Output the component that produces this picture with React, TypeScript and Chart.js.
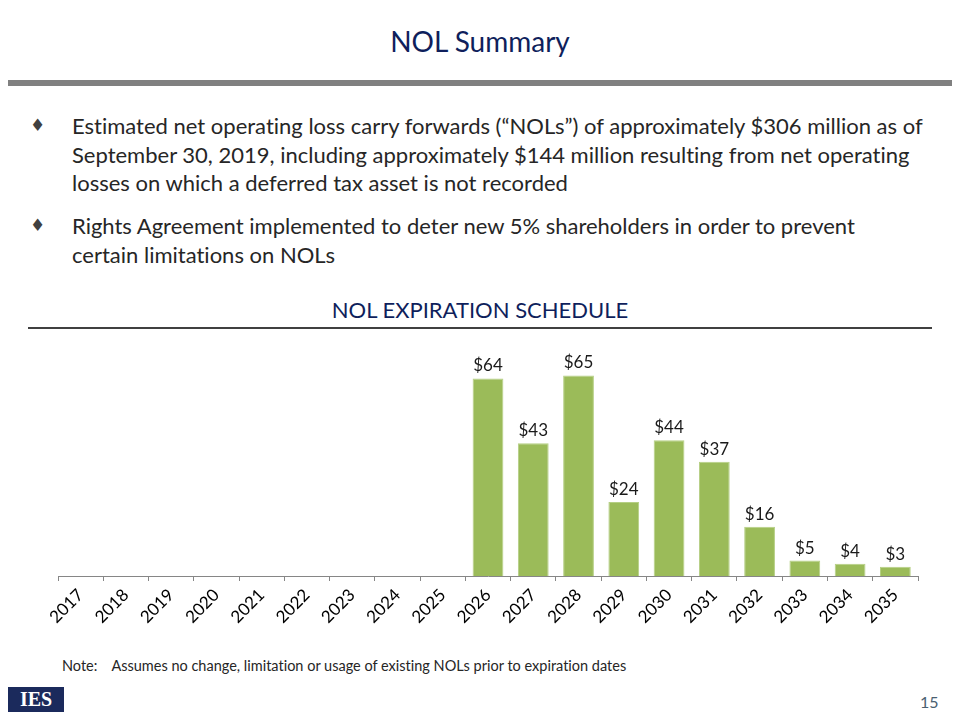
import React, { useEffect, useRef } from "react";
import { Chart, registerables } from "chart.js";

Chart.register(...registerables);

const years = ["2017","2018","2019","2020","2021","2022","2023","2024","2025","2026","2027","2028","2029","2030","2031","2032","2033","2034","2035"];
const nolValues: (number | null)[] = [null,null,null,null,null,null,null,null,null,64,43,65,24,44,37,16,5,4,3];

const titleText = "NOL Summary";
const subtitleText = "NOL EXPIRATION SCHEDULE";
const bullet1Lines = [
  "Estimated net operating loss carry forwards (\u201CNOLs\u201D) of approximately $306 million as of",
  "September 30, 2019, including approximately $144 million resulting from net operating",
  "losses on which a deferred tax asset is not recorded",
];
const bullet2Lines = [
  "Rights Agreement implemented to deter new 5% shareholders in order to prevent",
  "certain limitations on NOLs",
];
const noteLabel = "Note:";
const noteText = "Assumes no change, limitation or usage of existing NOLs prior to expiration dates";
const pageNumber = "15";

const FONT = "Lato, 'Open Sans', sans-serif";
const NAVY = "#0f1f5c";
const TEXT = "#262626";

const valueLabelPlugin = {
  id: "valueLabels",
  afterDatasetsDraw(chart: any) {
    const { ctx } = chart;
    const meta = chart.getDatasetMeta(0);
    const data = chart.data.datasets[0].data;
    ctx.save();
    ctx.font = `17px ${FONT}`;
    ctx.fillStyle = "#1a1a1a";
    ctx.textAlign = "center";
    ctx.textBaseline = "bottom";
    meta.data.forEach((bar: any, i: number) => {
      const v = data[i];
      if (v === null || v === undefined) return;
      ctx.fillText("$" + v, bar.x, bar.y - 4);
    });
    ctx.restore();
  },
};

function NolChart() {
  const ref = useRef<HTMLCanvasElement>(null);
  useEffect(() => {
    if (!ref.current) return;
    const chart = new Chart(ref.current, {
      type: "bar",
      data: {
        labels: years,
        datasets: [
          {
            data: nolValues,
            backgroundColor: "#9bbb59",
            borderColor: "#b5cf84",
            borderWidth: 1,
            barPercentage: 0.68,
            categoryPercentage: 1,
          },
        ],
      },
      options: {
        animation: false,
        responsive: false,
        maintainAspectRatio: false,
        layout: { padding: { left: 18, right: 22, top: 20, bottom: 6 } },
        plugins: { legend: { display: false }, tooltip: { enabled: false } },
        scales: {
          y: { display: false, min: 0, max: 70 },
          x: {
            afterFit: (scale: any) => {
              scale.height = 68;
            },
            border: { display: true, color: "#868686", width: 1 },
            grid: {
              display: true,
              offset: true,
              drawOnChartArea: false,
              drawTicks: true,
              tickLength: 5,
              color: "#868686",
            },
            ticks: {
              maxRotation: 45,
              minRotation: 45,
              autoSkip: false,
              padding: 4,
              color: "#000000",
              font: { family: FONT, size: 17 },
            },
          },
        },
      },
      plugins: [valueLabelPlugin],
    });
    return () => chart.destroy();
  }, []);
  return (
    <canvas
      ref={ref}
      width={900}
      height={310}
      style={{ position: "absolute", left: 40, top: 340, width: 900, height: 310 }}
    />
  );
}

export default function App() {
  const bulletStyle: React.CSSProperties = {
    position: "absolute",
    left: 30,
    fontSize: 17,
    color: "#404040",
    fontFamily: "'DejaVu Sans', sans-serif",
  };
  const lineStyle = (top: number): React.CSSProperties => ({
    position: "absolute",
    left: 72,
    top,
    fontSize: 22,
    lineHeight: "28px",
    whiteSpace: "nowrap",
    color: TEXT,
    fontFamily: FONT,
    fontVariantLigatures: "none",
  });
  return (
    <div
      style={{
        position: "fixed",
        left: 0,
        top: 0,
        width: 960,
        height: 720,
        background: "#ffffff",
        overflow: "hidden",
        fontFamily: FONT,
        fontVariantLigatures: "none",
      }}
    >
      <div
        style={{
          position: "absolute",
          left: 0,
          width: 960,
          top: 23,
          textAlign: "center",
          fontSize: 28,
          lineHeight: "36px",
          color: NAVY,
        }}
      >
        {titleText}
      </div>
      <div style={{ position: "absolute", left: 8, top: 80, width: 944, height: 6, background: "#808080" }} />

      <div style={{ ...bulletStyle, top: 115 }}>{"\u2666"}</div>
      {bullet1Lines.map((t, i) => (
        <div key={"b1" + i} style={lineStyle(112 + i * 28.5)}>
          {t}
        </div>
      ))}
      <div style={{ ...bulletStyle, top: 215 }}>{"\u2666"}</div>
      {bullet2Lines.map((t, i) => (
        <div key={"b2" + i} style={lineStyle(212 + i * 28.5)}>
          {t}
        </div>
      ))}

      <div
        style={{
          position: "absolute",
          left: 0,
          width: 960,
          top: 295,
          textAlign: "center",
          fontSize: 22,
          lineHeight: "30px",
          color: NAVY,
        }}
      >
        {subtitleText}
      </div>
      <div style={{ position: "absolute", left: 28, top: 327, width: 904, height: 2, background: "#404040" }} />

      <NolChart />

      <div
        style={{
          position: "absolute",
          left: 62,
          top: 656,
          fontSize: 14.5,
          lineHeight: "20px",
          color: TEXT,
          whiteSpace: "nowrap",
        }}
      >
        <span>{noteLabel}</span>
        <span style={{ marginLeft: 14 }}>{noteText}</span>
      </div>

      <div
        style={{
          position: "absolute",
          left: 8,
          top: 687,
          width: 56,
          height: 25,
          background: "#1b2a5c",
          color: "#ffffff",
          fontFamily: "'Liberation Serif', 'DejaVu Serif', serif",
          fontWeight: "bold",
          fontSize: 20,
          lineHeight: "25px",
          textAlign: "center",
        }}
      >
        IES
      </div>
      <div
        style={{
          position: "absolute",
          left: 920,
          top: 692,
          fontSize: 16,
          lineHeight: "20px",
          color: "#4a6070",
        }}
      >
        {pageNumber}
      </div>
    </div>
  );
}
